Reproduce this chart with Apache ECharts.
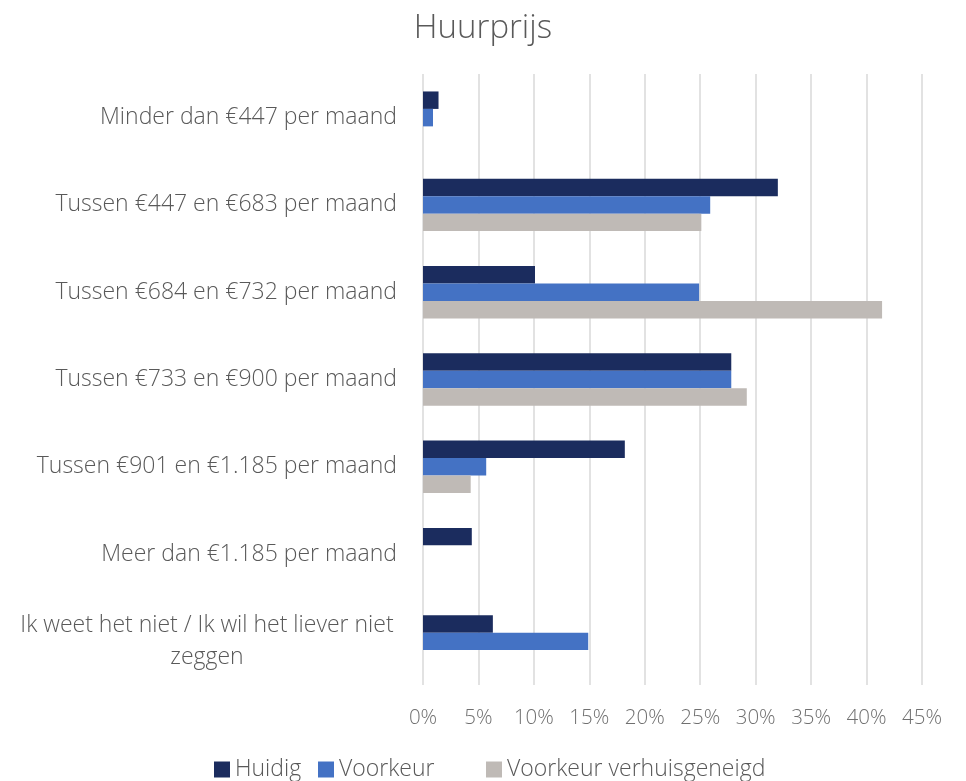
<!DOCTYPE html>
<html>
<head>
<meta charset="utf-8">
<title>Huurprijs</title>
<script src="https://cdn.jsdelivr.net/npm/echarts@6/dist/echarts.min.js"></script>
<style>
  html, body { margin: 0; padding: 0; background: #fff; }
  #chart { width: 966px; height: 781px; }
</style>
</head>
<body>
<div id="chart"></div>
<script>
// categorieen (van boven naar beneden)
const categories = [
  'Minder dan €447 per maand',
  'Tussen €447 en €683 per maand',
  'Tussen €684 en €732 per maand',
  'Tussen €733 en €900 per maand',
  'Tussen €901 en €1.185 per maand',
  'Meer dan €1.185 per maand',
  'Ik weet het niet / Ik wil het liever niet\nzeggen'
];

// percentages per reeks
const huidig = [1.4, 32.0, 10.1, 27.8, 18.2, 4.4, 6.3];
const voorkeur = [0.9, 25.9, 24.9, 27.8, 5.7, 0, 14.9];
const voorkeurVerhuisgeneigd = [0, 25.1, 41.4, 29.2, 4.3, 0, 0];

const seriesNames = ['Huidig', 'Voorkeur', 'Voorkeur verhuisgeneigd'];

const xTicks = { min: 0, max: 45, interval: 5 };

const font = '"Open Sans", sans-serif';
const textGrey = '#595959';

let chartDom = document.getElementById('chart');
let myChart = echarts.init(chartDom);

// laatste label is in twee regels gecentreerd
const yData = categories.map((c, i) => {
  if (i === categories.length - 1) {
    return { value: c, textStyle: { align: 'center', padding: [0, 380, 0, 0] } };
  }
  return c;
});

const legendText = { fontFamily: font, fontWeight: 300, fontSize: 23, color: textGrey };
const legendBase = { top: 753, itemWidth: 16, itemHeight: 16, itemGap: 0, icon: 'rect', textStyle: legendText };

let option = {
  animation: false,
  title: {
    text: 'Huurprijs',
    left: 'center',
    top: 7,
    textStyle: { fontFamily: font, fontWeight: 300, fontSize: 33, color: textGrey }
  },
  legend: [
    Object.assign({ left: 209, data: [seriesNames[0]] }, legendBase),
    Object.assign({ left: 313, data: [seriesNames[1]] }, legendBase),
    Object.assign({ left: 481, data: [seriesNames[2]] }, legendBase)
  ],
  grid: { left: 423, right: 44, top: 74, bottom: 96 },
  xAxis: {
    type: 'value',
    min: xTicks.min,
    max: xTicks.max,
    interval: xTicks.interval,
    axisLine: { show: false },
    axisTick: { show: false },
    splitLine: { lineStyle: { color: '#d9d9d9', width: 1.5 } },
    axisLabel: {
      formatter: '{value}%',
      margin: 23,
      fontFamily: font,
      fontWeight: 300,
      fontSize: 20.5,
      color: '#707070'
    }
  },
  yAxis: {
    type: 'category',
    inverse: true,
    data: yData,
    axisLine: { show: false },
    axisTick: { show: false },
    axisLabel: {
      margin: 26,
      fontFamily: font,
      fontWeight: 300,
      fontSize: 23,
      lineHeight: 32,
      padding: [3, 0, 0, 0],
      color: textGrey
    }
  },
  series: [
    {
      name: seriesNames[0],
      type: 'bar',
      data: huidig,
      barGap: '0%',
      barCategoryGap: '40%',
      itemStyle: { color: '#1b2c5e' }
    },
    {
      name: seriesNames[1],
      type: 'bar',
      data: voorkeur,
      barGap: '0%',
      barCategoryGap: '40%',
      itemStyle: { color: '#4472c4' }
    },
    {
      name: seriesNames[2],
      type: 'bar',
      data: voorkeurVerhuisgeneigd,
      barGap: '0%',
      barCategoryGap: '40%',
      itemStyle: { color: '#bfbab6' }
    }
  ]
};

myChart.setOption(option);
</script>
</body>
</html>
